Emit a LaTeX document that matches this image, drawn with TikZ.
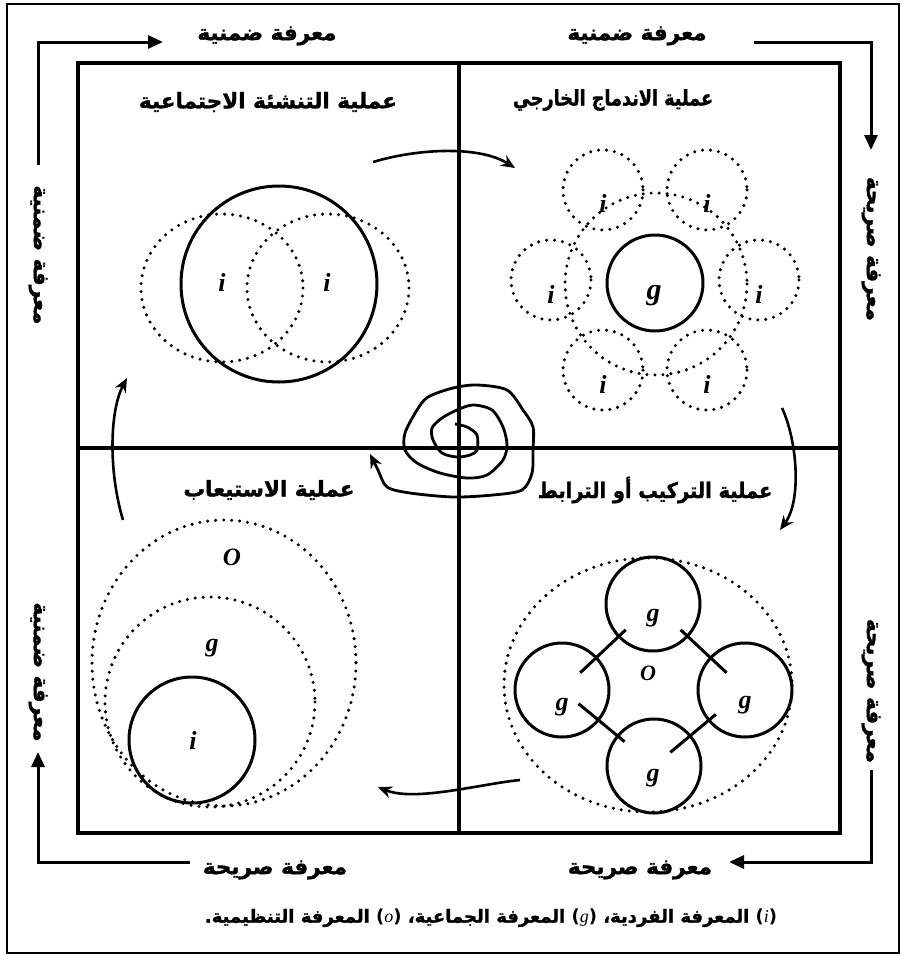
\documentclass[tikz,border=0pt]{standalone}
\usepackage{fontspec}
\usepackage{tikz}
\usetikzlibrary{arrows.meta,calc}
\TeXXeTstate=1
\newfontfamily\arabicfont[Script=Arabic,BoldFeatures={FakeBold=1.5}]{DejaVu Sans}
\newfontfamily\latinsans{DejaVu Sans}
\newfontfamily\letterfont{Liberation Serif}

\begin{document}
\begin{tikzpicture}[x=1pt,y=-1pt,
    ar/.style={font=\arabicfont\bfseries\fontsize{21.5}{24}\selectfont, inner sep=0pt},
    lt/.style={font=\letterfont\bfseries\itshape\fontsize{26}{28}\selectfont, inner sep=0pt},
    ring/.style={line width=3pt},
    dotring/.style={line width=3.4pt, line cap=round, dash pattern=on 0pt off 8pt},
    side/.style={line width=3pt, -{Triangle[length=15pt,width=13pt]}},
    flow/.style={line width=2.6pt, -{Stealth[length=14pt,width=12pt]}}]
    \useasboundingbox (0,0) rectangle (904,956);

    % outer border and quadrants
    \draw[line width=1.3pt] (7,4) rectangle (899,953);
    \draw[line width=3.2pt] (78,63) rectangle (840,833);
    \draw[line width=3.2pt] (459,63) -- (459,833);
    \draw[line width=3.2pt] (78,448) -- (840,448);

    % knowledge labels round the frame
    \node[ar] (tacitL) at (267,36) {\beginR معرفة ضمنية\endR};
    \node[ar] (tacitR) at (637,36) {\beginR معرفة ضمنية\endR};
    \node[ar] (explL) at (275,870) {\beginR معرفة صريحة\endR};
    \node[ar] (explR) at (640,870) {\beginR معرفة صريحة\endR};
    \node[ar, rotate=-90] (tacitUp) at (38,255) {\beginR معرفة ضمنية\endR};
    \node[ar, rotate=-90] (tacitLow) at (38,672) {\beginR معرفة ضمنية\endR};
    \node[ar, rotate=-90] (explUp) at (871,249) {\beginR معرفة صريحة\endR};
    \node[ar, rotate=-90] (explLow) at (871,691) {\beginR معرفة صريحة\endR};

    % outer arrows
    \coordinate (k1) at (38,165);  \coordinate (k2) at (163,42);
    \coordinate (k3) at (754,42);  \coordinate (k4) at (871,150);
    \coordinate (k5) at (871,770); \coordinate (k6) at (729,862);
    \coordinate (k7) at (190,862); \coordinate (k8) at (38,752);
    \draw[side] (k1) |- (k2);
    \draw[side] (k3) -| (k4);
    \draw[side] (k5) |- (k6);
    \draw[side] (k7) -| (k8);

    % quadrant titles
    \node[ar] (socT) at (268,102) {\beginR عملية التنشئة الاجتماعية\endR};
    \node[ar] (extT) at (613,100) {\scalebox{0.82}[1]{\beginR عملية الاندماج الخارجي\endR}};
    \node[ar] (intT) at (269,490) {\beginR عملية الاستيعاب\endR};
    \node[ar] (comT) at (655,490) {\scalebox{0.9}[1]{\beginR عملية التركيب أو الترابط\endR}};

    % socialisation
    \draw[dotring] (222,288) ellipse [x radius=81, y radius=74];
    \draw[dotring] (328,288) ellipse [x radius=81, y radius=74];
    \draw[ring] (279,284) circle [radius=98];
    \node[lt] (s1) at (222,282) {i};
    \node[lt] (s2) at (327,282) {i};

    % externalisation
    \coordinate (hub) at (655,280);
    \draw[dotring] (656,284) circle [radius=91];
    \foreach \a in {0,60,...,300} {
        \draw[dotring] ($(hub)+(\a:104)$) circle [radius=40];
        \node[lt] at ($(hub)+(\a:104)+(0,14)$) {i};
    }
    \draw[ring] (655,283) circle [radius=48];
    \node[lt, font=\letterfont\bfseries\itshape\fontsize{30}{32}\selectfont] (eg) at (654,296) {g};

    % combination
    \draw[dotring] (648,685) ellipse [x radius=144, y radius=127];
    \node[ring, draw, circle, minimum size=94pt, inner sep=0pt] (gt) at (653,604) {};
    \node[ring, draw, circle, minimum size=94pt, inner sep=0pt] (gl) at (562,690) {};
    \node[ring, draw, circle, minimum size=94pt, inner sep=0pt] (gr) at (745,690) {};
    \node[ring, draw, circle, minimum size=94pt, inner sep=0pt] (gb) at (654,766) {};
    \draw[ring] ($(gt)!0.3!(gl)$) -- ($(gt)!0.8!(gl)$);
    \draw[ring] ($(gt)!0.3!(gr)$) -- ($(gt)!0.8!(gr)$);
    \draw[ring] ($(gl)!0.18!(gb)$) -- ($(gl)!0.68!(gb)$);
    \draw[ring] ($(gb)!0.18!(gr)$) -- ($(gb)!0.68!(gr)$);
    \node[lt] at (653,618) {g};
    \node[lt] at (562,707) {g};
    \node[lt] at (745,705) {g};
    \node[lt] at (653,778) {g};
    \node[lt, font=\letterfont\bfseries\itshape\fontsize{22}{24}\selectfont] (co) at (648,673) {O};

    % internalisation
    \draw[dotring] (224,663) ellipse [x radius=132, y radius=143];
    \draw[dotring] (210,702) circle [radius=105];
    \draw[ring] (192,740) circle [radius=63];
    \node[lt, font=\letterfont\bfseries\itshape\fontsize{25}{27}\selectfont] (io) at (232,557) {O};
    \node[lt] (ig) at (212,648) {g};
    \node[lt] (ii) at (193,740) {i};

    % arrows between the processes
    \coordinate (sa) at (373,162); \coordinate (sb) at (515,168);
    \coordinate (ea) at (782,408); \coordinate (eb) at (780,530);
    \coordinate (ca) at (520,780); \coordinate (cb) at (378,787);
    \coordinate (ia) at (123,520); \coordinate (ib) at (127,378);
    \draw[flow] (sa) .. controls (420,148) and (480,146) .. (sb);
    \draw[flow] (ea) .. controls (797,440) and (802,500) .. (eb);
    \draw[flow] (ca) .. controls (480,784) and (415,802) .. (cb);
    \draw[flow] (ia) .. controls (108,470) and (110,410) .. (ib);

    % spiral
    \draw[flow, line width=2.8pt] plot[smooth] coordinates {
        (455,424) (467,427) (477,435) (477,450) (470,455) (457,457)
        (442,453) (433,440) (432,428) (442,418) (457,410) (473,405)
        (492,410) (503,427) (507,445) (503,460) (487,475) (467,478)
        (440,473) (417,463) (405,450) (405,433) (417,410) (428,397)
        (453,388) (477,385) (507,390) (523,410) (533,427) (533,450)
        (532,473) (522,490) (493,495) (453,497) (410,493) (387,487)
        (378,470) (370,454)};

    % key
    \node[ar, font=\arabicfont\bfseries\fontsize{18}{21}\selectfont] (key) at (491,918) {\beginR\beginL{\latinsans(}{\letterfont\mdseries\itshape i}{\latinsans)}\endL{} المعرفة الفردية، \beginL{\latinsans(}{\letterfont\mdseries\itshape g}{\latinsans)}\endL{} المعرفة الجماعية، \beginL{\latinsans(}{\letterfont\mdseries\itshape o}{\latinsans)}\endL{} المعرفة التنظيمية.\endR};
\end{tikzpicture}
\end{document}
